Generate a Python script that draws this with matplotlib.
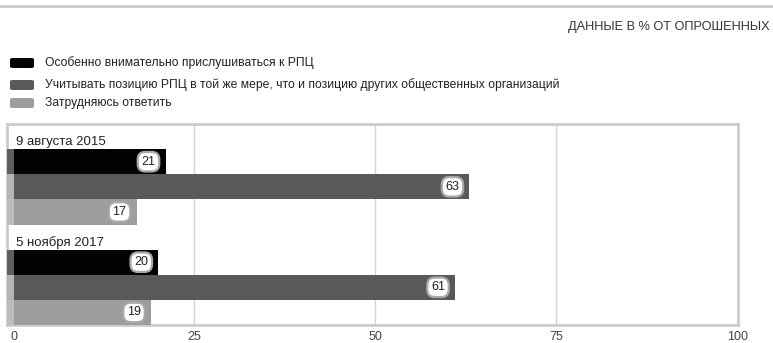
import matplotlib
matplotlib.use("Agg")
import matplotlib.pyplot as plt
from matplotlib.patches import FancyBboxPatch
from matplotlib.lines import Line2D

groups = ["9 августа 2015", "5 ноября 2017"]
series = ["Особенно внимательно прислушиваться к РПЦ",
          "Учитывать позицию РПЦ в той же мере, что и позицию других общественных организаций",
          "Затрудняюсь ответить"]
values = [[21, 63, 17],
          [20, 61, 19]]
xticks = [0, 25, 50, 75, 100]
title = "ДАННЫЕ В % ОТ ОПРОШЕННЫХ"

colors = ["#030303", "#595959", "#9d9d9d"]
stripe = ["#5e5e5e", "#b5b5b5", "#bdbdbd"]

W, H = 773, 343
fig = plt.figure(figsize=(W / 100, H / 100), dpi=100)
fig.patch.set_facecolor("white")

sans = ["Liberation Sans", "DejaVu Sans"]

# top rule
fig.add_artist(Line2D([0, 1], [1 - 6 / H, 1 - 6 / H], color="#cccccc", lw=2, transform=fig.transFigure))
fig.text(770 / W, 1 - 27 / H, title, ha="right", va="center", fontsize=9.2, family=sans, color="#333333")

# legend
leg_y = [63, 85, 103]
for i, name in enumerate(series):
    y = 1 - leg_y[i] / H
    fig.add_artist(FancyBboxPatch((10 / W, y - 5 / H), 24 / W, 10 / H,
                                  boxstyle="round,pad=0,rounding_size=0.004",
                                  transform=fig.transFigure, fc=colors[i], ec="none"))
    fig.text(45 / W, y, name, ha="left", va="center", fontsize=8.7, family=sans, color="#222222")

ax = fig.add_axes([7 / W, 18 / H, 731 / W, 201 / H])
ax.set_xlim(-0.9, 100.1)
ax.set_ylim(8.0, 0)

for g, gname in enumerate(groups):
    base = 1 + 4 * g
    ax.text(0.3, base - 0.3, gname, ha="left", va="center", fontsize=9.5, family=sans, color="#222222")
    for i, v in enumerate(values[g]):
        y = base + i
        ax.barh(y, v, height=1.0, left=0, align="edge", color=colors[i], zorder=3)
        ax.barh(y, 0.9, height=1.0, left=-0.9, align="edge", color=stripe[i], zorder=3)
        ax.annotate(str(v), xy=(v, y + 0.5), xytext=(-17, 0), textcoords="offset pixels",
                    ha="center", va="center", fontsize=9, family=sans, color="#222222", zorder=5,
                    bbox=dict(boxstyle="round,pad=0.3,rounding_size=0.6", fc="white", ec="#a8a8a8", lw=1.6))

ax.set_xticks(xticks)
ax.set_xticklabels([str(t) for t in xticks], fontsize=9, family=sans, color="#444444")
ax.tick_params(axis="x", length=0, pad=4)
ax.set_yticks([])
for x in xticks[1:-1]:
    ax.axvline(x, color="#d4d4d4", lw=1, zorder=1)
for s in ax.spines.values():
    s.set_color("#cccccc")
    s.set_linewidth(2)

fig.savefig("out.png", dpi=100)
